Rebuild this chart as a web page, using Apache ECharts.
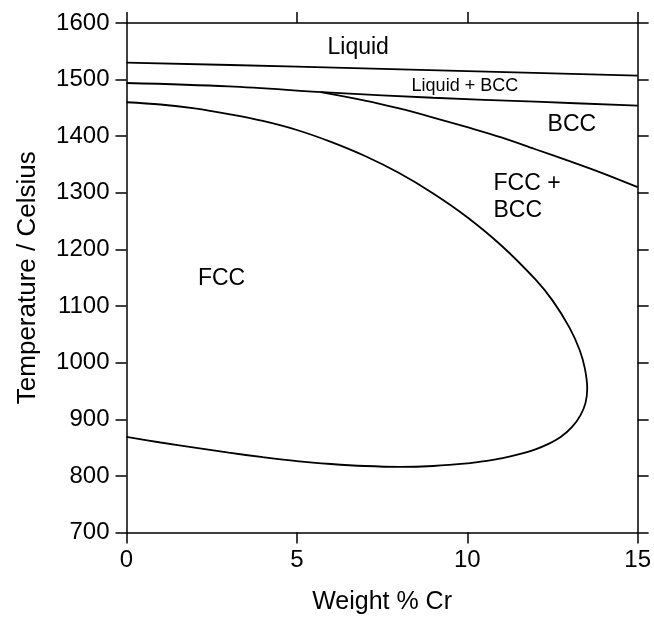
<!DOCTYPE html>
<html>
<head>
<meta charset="utf-8">
<script src="https://cdn.jsdelivr.net/npm/echarts@6/dist/echarts.min.js"></script>
<style>
  html, body { margin: 0; padding: 0; background: #fff; }
  #chart { width: 654px; height: 620px; }
</style>
</head>
<body>
<div id="chart"></div>
<script>
// Fe–Cr phase diagram (gamma loop), temperature vs. weight % Cr

// Axis ticks
const xTicks = [0, 5, 10, 15];
const yTicks = [700, 800, 900, 1000, 1100, 1200, 1300, 1400, 1500, 1600];

// Liquidus: Liquid / Liquid + BCC
const liquidusCr = [0, 5, 10, 15];
const liquidusT  = [1530, 1523, 1515, 1507];

// Solidus: Liquid + BCC / BCC
const solidusCr = [0, 3, 6, 9, 12, 15];
const solidusT  = [1494, 1488, 1477, 1468, 1461, 1454];

// BCC / FCC + BCC boundary
const bccCr = [5.7, 7, 8, 9, 10, 11, 12, 13, 14, 15];
const bccT  = [1478, 1463, 1449, 1433, 1416, 1398, 1377, 1356, 1334, 1310];

// FCC / FCC + BCC boundary (closed gamma loop, upper branch then lower branch)
const fccCr = [0, 1, 2, 3, 4, 5, 6, 7, 8, 9, 10, 11, 12, 12.5, 13, 13.3, 13.45, 13.52,
               13.47, 13.32, 13.07, 12.75, 12.4, 12, 11.5, 11, 10.5, 10, 9, 8, 7, 6, 5, 4, 3, 2, 1, 0];
const fccT  = [1460, 1456, 1449, 1439, 1427, 1411, 1390, 1365, 1335, 1299, 1257, 1207, 1147, 1110, 1062, 1022, 990, 955,
               929, 907, 886, 869, 857, 847, 838, 831, 826, 822, 817.5, 816, 817.5, 821, 826, 833, 841, 850, 859, 869];

// Phase-field labels
const fieldNames = ['Liquid', 'Liquid + BCC', 'BCC', 'FCC +\nBCC', 'FCC'];
const fieldCr    = [6.8, 9.93, 13.07, 10.77, 2.79];
const fieldT     = [1556, 1489, 1421, 1292, 1149];

const pairs = (xs, ys) => xs.map((x, i) => [x, ys[i]]);

const FONT = '"Liberation Sans", Arial, Helvetica, sans-serif';
const INK = '#000';
const axisLineStyle = { color: INK, width: 1.5 };

function baseAxis(extra) {
  return Object.assign({
    type: 'value',
    axisLine: { show: true, onZero: false, lineStyle: axisLineStyle },
    axisTick: { show: true, inside: false, length: 11, lineStyle: axisLineStyle },
    splitLine: { show: false },
    axisLabel: { show: false }
  }, extra);
}

function curve(name, xs, ys) {
  return {
    name: name,
    type: 'line',
    data: pairs(xs, ys),
    showSymbol: false,
    smooth: 0.35,
    silent: true,
    lineStyle: { color: INK, width: 1.8 },
    z: 3
  };
}

const fieldLabels = {
  type: 'scatter',
  symbolSize: 0,
  silent: true,
  itemStyle: { opacity: 1 },
  data: fieldNames.map((n, i) => ({
    value: [fieldCr[i], fieldT[i]],
    name: n,
    label: {
      color: INK,
      align: i === 3 ? 'left' : 'center',
      fontSize: i === 1 ? 18 : 23,
      lineHeight: 27
    }
  })),
  label: {
    show: true,
    position: [0, 0],
    verticalAlign: 'middle',
    formatter: p => p.name,
    color: INK,
    opacity: 1,
    fontFamily: FONT
  }
};

const chart = echarts.init(document.getElementById('chart'), null, { renderer: 'canvas' });
chart.setOption({
  backgroundColor: '#fff',
  animation: false,
  grid: { left: 126.5, top: 23, width: 513, height: 513, containLabel: false },
  xAxis: [
    baseAxis({
      position: 'bottom',
      min: xTicks[0], max: xTicks[xTicks.length - 1], interval: 5,
      axisLabel: { show: true, color: INK, fontSize: 24, fontFamily: FONT, margin: 16, formatter: v => String(v) },
      name: 'Weight % Cr',
      nameLocation: 'middle',
      nameGap: 70,
      nameTextStyle: { color: INK, fontSize: 25, fontFamily: FONT, verticalAlign: 'middle' }
    }),
    baseAxis({
      position: 'top',
      min: xTicks[0], max: xTicks[xTicks.length - 1], interval: 5
    })
  ],
  yAxis: [
    baseAxis({
      position: 'left',
      min: yTicks[0], max: yTicks[yTicks.length - 1], interval: 100,
      axisLabel: { show: true, color: INK, fontSize: 24, fontFamily: FONT, margin: 17, formatter: v => String(v) },
      name: 'Temperature / Celsius',
      nameLocation: 'middle',
      nameGap: 99,
      nameTextStyle: { color: INK, fontSize: 26, fontFamily: FONT, verticalAlign: 'middle' }
    }),
    baseAxis({
      position: 'right',
      min: yTicks[0], max: yTicks[yTicks.length - 1], interval: 100
    })
  ],
  series: [
    curve('Liquidus', liquidusCr, liquidusT),
    curve('Solidus', solidusCr, solidusT),
    curve('BCC boundary', bccCr, bccT),
    curve('FCC boundary', fccCr, fccT),
    fieldLabels
  ]
});
</script>
</body>
</html>
